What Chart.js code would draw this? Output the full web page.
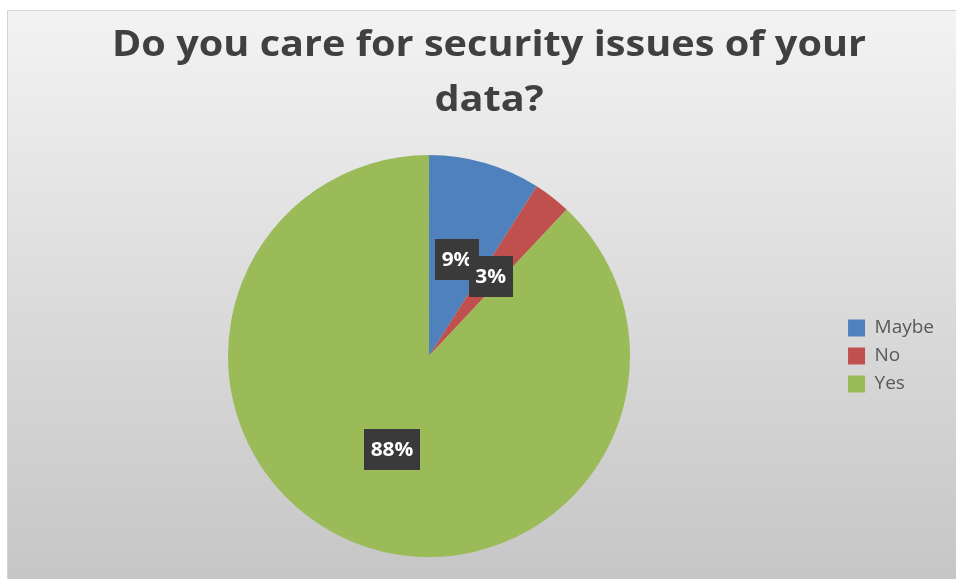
<!DOCTYPE html>
<html>
<head>
<meta charset="utf-8">
<script src="https://cdn.jsdelivr.net/npm/chart.js@4.4.1/dist/chart.umd.min.js"></script>
<style>
  html, body { margin: 0; padding: 0; background: #ffffff; }
  #wrap { position: absolute; left: 0; top: 0; width: 956px; height: 579px; }
</style>
</head>
<body>
<div id="wrap"><canvas id="c" width="956" height="579"></canvas></div>
<script>
const TITLE_LINES = ["Do you care for security issues of your", "data?"];
const CATEGORIES = ["Maybe", "No", "Yes"];
const VALUES = [9, 3, 88];
const COLORS = ["#4F81BD", "#C0504D", "#9BBB59"];

const panelBg = {
  id: 'panelBg',
  beforeDraw(chart) {
    const ctx = chart.ctx;
    ctx.save();
    ctx.fillStyle = '#ffffff';
    ctx.fillRect(0, 0, chart.width, chart.height);
    const g = ctx.createLinearGradient(0, 10, 0, chart.height);
    g.addColorStop(0, '#f3f3f3');
    g.addColorStop(0.45, '#dedede');
    g.addColorStop(1, '#c6c6c6');
    ctx.fillStyle = g;
    ctx.fillRect(7, 10, chart.width - 7, chart.height - 10);
    ctx.strokeStyle = '#d4d4d4';
    ctx.lineWidth = 1;
    ctx.beginPath();
    ctx.moveTo(7.5, chart.height);
    ctx.lineTo(7.5, 10.5);
    ctx.lineTo(chart.width, 10.5);
    ctx.stroke();
    ctx.restore();
  }
};

const titleText = {
  id: 'titleText',
  afterDraw(chart) {
    const ctx = chart.ctx;
    ctx.save();
    ctx.font = 'bold 36px "Open Sans", sans-serif';
    ctx.fillStyle = '#404040';
    ctx.textAlign = 'center';
    ctx.textBaseline = 'alphabetic';
    const sx = 754 / ctx.measureText(TITLE_LINES[0]).width;
    [[TITLE_LINES[0], 56], [TITLE_LINES[1], 111]].forEach(([t, y]) => {
      ctx.save();
      ctx.translate(489, y);
      ctx.scale(sx, 1);
      ctx.fillText(t, 0, 0);
      ctx.restore();
    });
    ctx.restore();
  }
};

const sliceLabels = {
  id: 'sliceLabels',
  afterDatasetsDraw(chart) {
    const ctx = chart.ctx;
    const meta = chart.getDatasetMeta(0);
    const data = chart.data.datasets[0].data;
    ctx.save();
    ctx.font = 'bold 19px "Open Sans", sans-serif';
    ctx.textAlign = 'center';
    ctx.textBaseline = 'middle';
    const sx = 1.1;
    meta.data.forEach((arc, i) => {
      const p = arc.tooltipPosition();
      const txt = data[i] + '%';
      const tw = ctx.measureText(txt).width * sx;
      const w = tw + 13, h = 41;
      ctx.fillStyle = '#3a3a3a';
      ctx.fillRect(Math.round(p.x - w / 2), Math.round(p.y - h / 2), Math.round(w), h);
      ctx.fillStyle = '#ffffff';
      ctx.save();
      ctx.translate(p.x, p.y + 1);
      ctx.scale(sx, 1);
      ctx.fillText(txt, 0, 0);
      ctx.restore();
    });
    ctx.restore();
  }
};

new Chart(document.getElementById('c'), {
  type: 'pie',
  data: {
    labels: CATEGORIES,
    datasets: [{
      data: VALUES,
      backgroundColor: COLORS,
      borderWidth: 0
    }]
  },
  options: {
    responsive: false,
    animation: false,
    devicePixelRatio: 1,
    layout: { padding: { left: 19, right: 12, top: 155, bottom: 22 } },
    plugins: {
      title: { display: false },
      tooltip: { enabled: false },
      legend: {
        display: true,
        position: 'right',
        labels: {
          boxWidth: 17,
          boxHeight: 17,
          padding: 9,
          color: '#595959',
          font: { family: '"Open Sans", sans-serif', size: 19 }
        }
      }
    }
  },
  plugins: [panelBg, titleText, sliceLabels]
});
</script>
</body>
</html>
